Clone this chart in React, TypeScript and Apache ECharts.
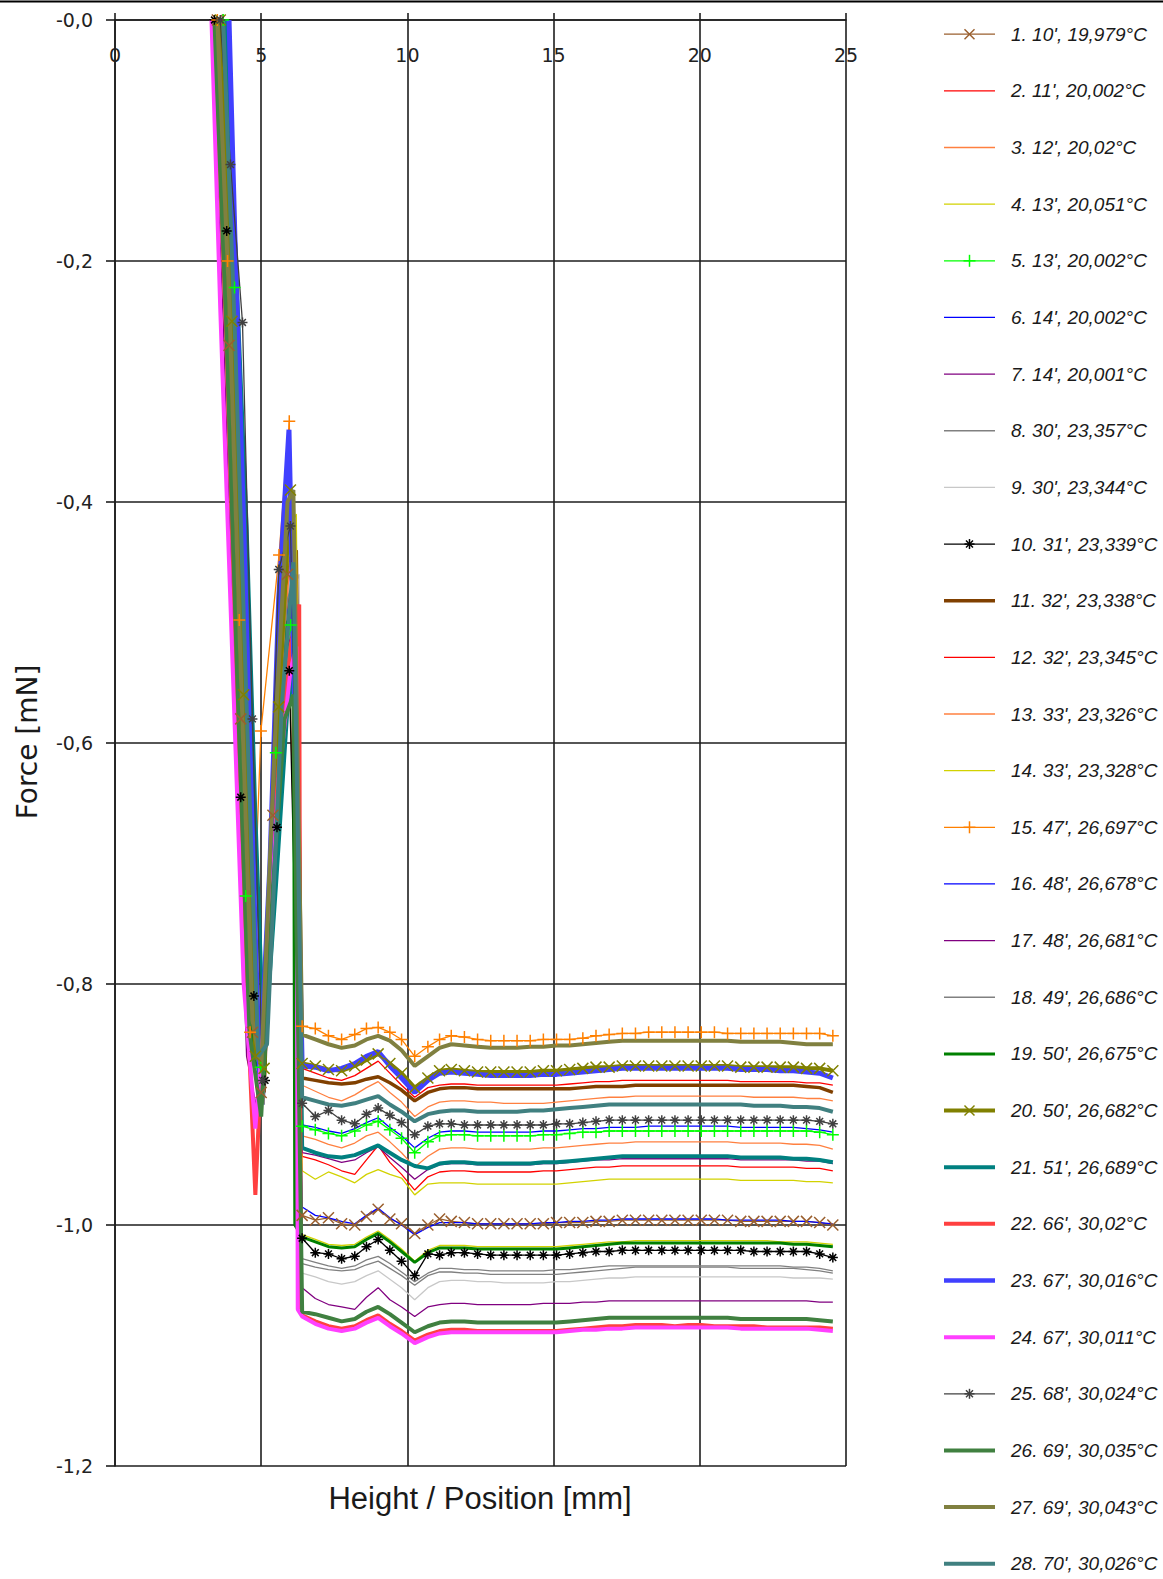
import React, { useEffect, useRef } from 'react';
import * as echarts from 'echarts';

// ---------- legend texts / styles ----------
const seriesNames = [
  "1. 10', 19,979°C", "2. 11', 20,002°C", "3. 12', 20,02°C", "4. 13', 20,051°C",
  "5. 13', 20,002°C", "6. 14', 20,002°C", "7. 14', 20,001°C", "8. 30', 23,357°C",
  "9. 30', 23,344°C", "10. 31', 23,339°C", "11. 32', 23,338°C", "12. 32', 23,345°C",
  "13. 33', 23,326°C", "14. 33', 23,328°C", "15. 47', 26,697°C", "16. 48', 26,678°C",
  "17. 48', 26,681°C", "18. 49', 26,686°C", "19. 50', 26,675°C", "20. 50', 26,682°C",
  "21. 51', 26,689°C", "22. 66', 30,02°C", "23. 67', 30,016°C", "24. 67', 30,011°C",
  "25. 68', 30,024°C", "26. 69', 30,035°C", "27. 69', 30,043°C", "28. 70', 30,026°C",
];
const seriesColors = [
  '#9a5f2e', '#ff0000', '#ff8040', '#d2d200', '#00ff00', '#0000ff', '#800080', '#808080',
  '#c8c8c8', '#000000', '#804000', '#ff0000', '#ff8040', '#d2d200', '#ff8000', '#0000ff',
  '#800080', '#808080', '#008000', '#808000', '#008080', '#ff4040', '#4040ff', '#ff40ff',
  '#404040', '#408040', '#808040', '#408080',
];
const seriesWidths = [
  1.3, 1.3, 1.3, 1.3, 1.3, 1.3, 1.3, 1.3, 1.3, 1.3, 3.5, 1.3, 1.3, 1.3,
  1.3, 1.3, 1.3, 1.3, 3, 4, 4, 4, 5, 4, 1.3, 4, 4, 4,
];
const seriesMarkers = [
  'x', '', '', '', '+', '', '', '', '', '*', '', '', '', '',
  '+', '', '', '', '', 'x', '', '', '', '', '*', '', '', '',
];

// ---------- x positions of the flat part (mm) ----------
const plateauPositions = [
  6.4, 6.85, 7.3, 7.75, 8.2, 8.6, 9.0, 9.4, 9.8, 10.25,
  10.7, 11.1, 11.5, 11.95, 12.4, 12.85, 13.3, 13.75, 14.2, 14.65,
  15.1, 15.55, 16.0, 16.45, 16.9, 17.35, 17.8, 18.25, 18.7, 19.15,
  19.6, 20.05, 20.5, 20.95, 21.4, 21.85, 22.3, 22.75, 23.2, 23.65,
  24.1, 24.55,
];

// ---------- initial transient part [mm, mN] ----------
const s01Rise = [[3.5, 0], [3.9, -0.27], [4.3, -0.58], [4.7, -0.84], [5.0, -0.89], [5.4, -0.66], [5.9, -0.46]];
const s02Rise = [[3.4, 0], [3.8, -0.24], [4.2, -0.53], [4.6, -0.80], [5.0, -0.88], [5.4, -0.66], [5.8, -0.50], [6.2, -0.45]];
const s03Rise = [[3.6, 0], [4.0, -0.26], [4.4, -0.57], [4.8, -0.86], [5.1, -0.88], [5.5, -0.62], [6.0, -0.44], [6.2, -0.43]];
const s04Rise = [[3.4, 0], [3.8, -0.22], [4.2, -0.52], [4.6, -0.83], [5.0, -0.89], [5.4, -0.70], [5.8, -0.55], [6.2, -0.52]];
const s05Rise = [[3.7, 0], [4.09, -0.222], [4.47, -0.727], [4.98, -0.869], [5.5, -0.608], [6.01, -0.502]];
const s06Rise = [[3.5, 0], [3.9, -0.27], [4.3, -0.58], [4.7, -0.84], [5.1, -0.90], [5.5, -0.64], [5.9, -0.49], [6.2, -0.47]];
const s07Rise = [[3.3, 0], [3.7, -0.25], [4.1, -0.56], [4.5, -0.86], [4.9, -0.91], [5.3, -0.72], [5.7, -0.58], [6.1, -0.56]];
const s08Rise = [[3.4, 0], [3.8, -0.25], [4.2, -0.54], [4.6, -0.82], [5.0, -0.88], [5.4, -0.66], [5.8, -0.52], [6.2, -0.50]];
const s09Rise = [[3.6, 0], [4.0, -0.24], [4.4, -0.55], [4.8, -0.84], [5.1, -0.90], [5.6, -0.62], [6.0, -0.48], [6.3, -0.46]];
const s10Rise = [[3.4, 0], [3.82, -0.175], [4.3, -0.645], [4.75, -0.81], [5.13, -0.88], [5.54, -0.67], [5.96, -0.54]];
const s11Rise = [[3.5, 0], [3.9, -0.25], [4.3, -0.54], [4.7, -0.82], [5.1, -0.89], [5.5, -0.60], [5.9, -0.45], [6.2, -0.44]];
const s12Rise = [[3.4, 0], [3.8, -0.23], [4.2, -0.52], [4.6, -0.79], [5.0, -0.87], [5.4, -0.69], [5.8, -0.56], [6.2, -0.49]];
const s13Rise = [[3.5, 0], [3.9, -0.24], [4.3, -0.57], [4.7, -0.83], [5.1, -0.89], [5.5, -0.63], [5.9, -0.47], [6.2, -0.44]];
const s14Rise = [[3.6, 0], [4.0, -0.25], [4.4, -0.57], [4.8, -0.87], [5.1, -0.86], [5.5, -0.60], [6.0, -0.42], [6.2, -0.41]];
const s15Rise = [[3.5, 0], [3.85, -0.2], [4.25, -0.498], [4.62, -0.84], [4.99, -0.59], [5.61, -0.444], [5.96, -0.333]];
const s16Rise = [[3.4, 0], [3.8, -0.26], [4.2, -0.58], [4.6, -0.85], [5.0, -0.90], [5.4, -0.71], [5.8, -0.57], [6.1, -0.55]];
const s17Rise = [[3.5, 0], [3.9, -0.27], [4.3, -0.57], [4.7, -0.83], [5.1, -0.88], [5.5, -0.66], [5.9, -0.52], [6.2, -0.50]];
const s18Rise = [[3.5, 0], [3.9, -0.25], [4.3, -0.56], [4.7, -0.84], [5.1, -0.90], [5.5, -0.64], [5.9, -0.48], [6.2, -0.46]];
const s19Rise = [[3.5, 0], [3.9, -0.26], [4.3, -0.60], [4.7, -0.86], [5.1, -0.88], [5.5, -0.66], [5.9, -0.50], [6.1, -0.49], [6.15, -1.0]];
const s20Rise = [[3.6, 0], [4.0, -0.25], [4.4, -0.56], [4.8, -0.86], [5.1, -0.87], [5.6, -0.57], [6.0, -0.39]];
const s21Rise = [[3.8, 0], [4.2, -0.24], [4.5, -0.42], [4.8, -0.66], [5.1, -0.86], [5.5, -0.72], [5.9, -0.57], [6.2, -0.53]];
const s22Rise = [[3.4, 0], [3.8, -0.26], [4.2, -0.58], [4.6, -0.86], [4.8, -0.975], [5.2, -0.76], [5.6, -0.62], [6.0, -0.52], [6.3, -0.485], [6.35, -1.07]];
const s23Rise = [[3.9, 0], [4.1, -0.18], [4.4, -0.42], [4.7, -0.68], [4.95, -0.88], [5.3, -0.70], [5.6, -0.48], [5.95, -0.34]];
const s24Rise = [[3.3, 0], [3.6, -0.24], [4.0, -0.52], [4.4, -0.80], [4.8, -0.92], [5.2, -0.80], [5.6, -0.63], [6.0, -0.54], [6.2, -0.52], [6.25, -1.07]];
const s25Rise = [[3.6, 0], [3.95, -0.12], [4.36, -0.251], [4.7, -0.58], [5.05, -0.88], [5.6, -0.456], [6.0, -0.42]];
const s26Rise = [[3.4, 0], [3.8, -0.25], [4.2, -0.56], [4.6, -0.84], [5.0, -0.91], [5.4, -0.72], [5.8, -0.58], [6.1, -0.56]];
const s27Rise = [[3.5, 0], [3.9, -0.23], [4.3, -0.54], [4.7, -0.83], [5.0, -0.87], [5.5, -0.58], [5.9, -0.40], [6.1, -0.39]];
const s28Rise = [[3.7, 0], [4.1, -0.26], [4.5, -0.57], [4.9, -0.86], [5.2, -0.85], [5.7, -0.57], [6.1, -0.45]];

// ---------- flat part (mN) at plateauPositions ----------
const s01Flat = [
  -0.992, -0.996, -0.994, -0.999, -1.000, -0.993, -0.987, -0.995, -0.999, -1.007,
  -1.000, -0.995, -0.997, -0.998, -0.999, -0.999, -0.999, -0.999, -0.999, -0.999,
  -0.998, -0.998, -0.998, -0.997, -0.997, -0.996, -0.996, -0.996, -0.996, -0.996,
  -0.996, -0.996, -0.996, -0.996, -0.997, -0.997, -0.997, -0.997, -0.997, -0.997,
  -0.998, -1.000];
const s02Flat = [
  -0.870, -0.874, -0.878, -0.880, -0.876, -0.870, -0.864, -0.874, -0.884, -0.894,
  -0.886, -0.884, -0.883, -0.883, -0.884, -0.884, -0.884, -0.884, -0.884, -0.884,
  -0.884, -0.883, -0.882, -0.881, -0.881, -0.880, -0.880, -0.880, -0.880, -0.880,
  -0.880, -0.880, -0.880, -0.880, -0.881, -0.881, -0.881, -0.881, -0.881, -0.882,
  -0.882, -0.884];
const s03Flat = [
  -0.884, -0.889, -0.894, -0.897, -0.892, -0.886, -0.881, -0.890, -0.898, -0.910,
  -0.902, -0.898, -0.897, -0.897, -0.898, -0.898, -0.899, -0.899, -0.899, -0.899,
  -0.898, -0.897, -0.896, -0.895, -0.894, -0.894, -0.893, -0.893, -0.893, -0.893,
  -0.893, -0.893, -0.893, -0.893, -0.893, -0.894, -0.894, -0.894, -0.894, -0.895,
  -0.895, -0.897];
const s04Flat = [
  -1.008, -1.012, -1.016, -1.017, -1.016, -1.010, -1.005, -1.012, -1.020, -1.030,
  -1.021, -1.017, -1.017, -1.017, -1.018, -1.018, -1.018, -1.018, -1.018, -1.018,
  -1.018, -1.017, -1.016, -1.015, -1.014, -1.014, -1.013, -1.013, -1.013, -1.013,
  -1.013, -1.013, -1.013, -1.013, -1.013, -1.013, -1.013, -1.014, -1.014, -1.014,
  -1.015, -1.016];
const s05Flat = [
  -0.918, -0.921, -0.924, -0.926, -0.922, -0.917, -0.914, -0.921, -0.928, -0.940,
  -0.931, -0.926, -0.925, -0.925, -0.926, -0.926, -0.926, -0.926, -0.926, -0.925,
  -0.925, -0.924, -0.923, -0.923, -0.922, -0.922, -0.922, -0.922, -0.922, -0.922,
  -0.922, -0.922, -0.922, -0.922, -0.922, -0.922, -0.922, -0.922, -0.922, -0.922,
  -0.923, -0.925];
const s06Flat = [
  -0.917, -0.919, -0.922, -0.924, -0.920, -0.915, -0.911, -0.919, -0.926, -0.936,
  -0.928, -0.923, -0.922, -0.922, -0.923, -0.923, -0.923, -0.923, -0.923, -0.922,
  -0.922, -0.921, -0.920, -0.920, -0.919, -0.919, -0.919, -0.918, -0.918, -0.918,
  -0.918, -0.918, -0.918, -0.918, -0.919, -0.919, -0.919, -0.919, -0.919, -0.920,
  -0.921, -0.923];
const s07Flat = [
  -1.052, -1.061, -1.066, -1.068, -1.070, -1.060, -1.052, -1.062, -1.068, -1.076,
  -1.068, -1.066, -1.065, -1.065, -1.066, -1.066, -1.066, -1.066, -1.066, -1.065,
  -1.065, -1.065, -1.064, -1.064, -1.063, -1.063, -1.063, -1.063, -1.063, -1.063,
  -1.063, -1.063, -1.063, -1.063, -1.063, -1.063, -1.063, -1.063, -1.063, -1.063,
  -1.064, -1.064];
const s08Flat = [
  -1.032, -1.035, -1.037, -1.038, -1.037, -1.033, -1.030, -1.036, -1.042, -1.050,
  -1.042, -1.039, -1.039, -1.040, -1.040, -1.041, -1.041, -1.041, -1.041, -1.041,
  -1.041, -1.040, -1.039, -1.038, -1.037, -1.036, -1.035, -1.035, -1.035, -1.035,
  -1.035, -1.035, -1.035, -1.035, -1.036, -1.036, -1.036, -1.036, -1.036, -1.037,
  -1.038, -1.040];
const s09Flat = [
  -1.040, -1.043, -1.047, -1.049, -1.047, -1.042, -1.038, -1.045, -1.052, -1.062,
  -1.052, -1.047, -1.046, -1.046, -1.047, -1.047, -1.048, -1.048, -1.048, -1.048,
  -1.047, -1.047, -1.046, -1.045, -1.044, -1.044, -1.043, -1.043, -1.043, -1.043,
  -1.043, -1.043, -1.043, -1.043, -1.043, -1.043, -1.043, -1.043, -1.044, -1.044,
  -1.044, -1.045];
const s10Flat = [
  -1.011, -1.023, -1.024, -1.028, -1.026, -1.018, -1.012, -1.021, -1.030, -1.042,
  -1.024, -1.025, -1.023, -1.023, -1.024, -1.025, -1.025, -1.025, -1.025, -1.025,
  -1.025, -1.024, -1.023, -1.022, -1.022, -1.021, -1.021, -1.021, -1.021, -1.021,
  -1.021, -1.021, -1.021, -1.021, -1.021, -1.022, -1.022, -1.022, -1.022, -1.022,
  -1.024, -1.027];
const s11Flat = [
  -0.878, -0.880, -0.882, -0.883, -0.882, -0.879, -0.877, -0.882, -0.888, -0.897,
  -0.890, -0.887, -0.886, -0.886, -0.887, -0.887, -0.887, -0.887, -0.887, -0.887,
  -0.887, -0.887, -0.886, -0.885, -0.885, -0.885, -0.884, -0.884, -0.884, -0.884,
  -0.884, -0.884, -0.884, -0.884, -0.884, -0.884, -0.884, -0.884, -0.884, -0.885,
  -0.886, -0.890];
const s12Flat = [
  -0.943, -0.946, -0.950, -0.955, -0.958, -0.946, -0.934, -0.948, -0.958, -0.971,
  -0.960, -0.956, -0.955, -0.955, -0.956, -0.956, -0.956, -0.956, -0.956, -0.955,
  -0.955, -0.954, -0.953, -0.952, -0.952, -0.951, -0.951, -0.951, -0.951, -0.951,
  -0.951, -0.951, -0.951, -0.951, -0.952, -0.952, -0.952, -0.952, -0.952, -0.953,
  -0.953, -0.955];
const s13Flat = [
  -0.926, -0.929, -0.933, -0.936, -0.932, -0.926, -0.923, -0.931, -0.940, -0.952,
  -0.943, -0.937, -0.936, -0.936, -0.937, -0.937, -0.937, -0.937, -0.937, -0.936,
  -0.936, -0.935, -0.934, -0.933, -0.932, -0.932, -0.931, -0.931, -0.931, -0.931,
  -0.931, -0.931, -0.931, -0.931, -0.932, -0.932, -0.932, -0.932, -0.933, -0.933,
  -0.934, -0.937];
const s14Flat = [
  -0.955, -0.962, -0.956, -0.960, -0.965, -0.958, -0.954, -0.958, -0.961, -0.975,
  -0.966, -0.965, -0.965, -0.965, -0.966, -0.966, -0.966, -0.966, -0.966, -0.966,
  -0.966, -0.965, -0.964, -0.963, -0.962, -0.962, -0.962, -0.962, -0.962, -0.962,
  -0.962, -0.962, -0.962, -0.962, -0.963, -0.963, -0.963, -0.963, -0.963, -0.964,
  -0.964, -0.965];
const s15Flat = [
  -0.835, -0.837, -0.843, -0.846, -0.842, -0.837, -0.836, -0.840, -0.846, -0.860,
  -0.852, -0.846, -0.843, -0.844, -0.846, -0.847, -0.847, -0.847, -0.847, -0.846,
  -0.846, -0.846, -0.845, -0.843, -0.842, -0.841, -0.841, -0.840, -0.840, -0.840,
  -0.840, -0.840, -0.840, -0.841, -0.841, -0.841, -0.841, -0.841, -0.841, -0.841,
  -0.841, -0.843];
const s16Flat = [
  -0.985, -0.992, -0.994, -0.997, -0.999, -0.992, -0.986, -0.994, -1.000, -1.008,
  -1.002, -0.998, -0.998, -0.998, -0.999, -0.999, -0.999, -0.999, -0.999, -0.998,
  -0.998, -0.997, -0.997, -0.996, -0.996, -0.995, -0.995, -0.995, -0.995, -0.995,
  -0.995, -0.995, -0.995, -0.996, -0.996, -0.996, -0.996, -0.996, -0.997, -0.997,
  -0.998, -0.999];
const s17Flat = [
  -0.940, -0.942, -0.945, -0.948, -0.946, -0.940, -0.935, -0.944, -0.952, -0.962,
  -0.954, -0.950, -0.949, -0.949, -0.950, -0.950, -0.950, -0.950, -0.950, -0.949,
  -0.949, -0.948, -0.947, -0.946, -0.946, -0.945, -0.945, -0.945, -0.945, -0.945,
  -0.945, -0.945, -0.945, -0.945, -0.946, -0.946, -0.946, -0.946, -0.946, -0.947,
  -0.947, -0.949];
const s18Flat = [
  -1.028, -1.031, -1.034, -1.036, -1.034, -1.029, -1.026, -1.032, -1.039, -1.047,
  -1.040, -1.036, -1.036, -1.037, -1.037, -1.038, -1.038, -1.038, -1.038, -1.038,
  -1.037, -1.037, -1.036, -1.035, -1.034, -1.034, -1.034, -1.034, -1.034, -1.034,
  -1.034, -1.034, -1.034, -1.034, -1.034, -1.034, -1.034, -1.034, -1.035, -1.035,
  -1.036, -1.038];
const s19Flat = [
  -1.010, -1.014, -1.018, -1.019, -1.018, -1.012, -1.007, -1.014, -1.022, -1.031,
  -1.023, -1.019, -1.019, -1.019, -1.020, -1.020, -1.020, -1.020, -1.020, -1.020,
  -1.020, -1.019, -1.018, -1.017, -1.016, -1.015, -1.015, -1.015, -1.015, -1.015,
  -1.015, -1.015, -1.015, -1.015, -1.015, -1.015, -1.015, -1.015, -1.016, -1.016,
  -1.017, -1.018];
const s20Flat = [
  -0.866, -0.868, -0.871, -0.872, -0.868, -0.863, -0.858, -0.866, -0.874, -0.886,
  -0.878, -0.872, -0.871, -0.872, -0.873, -0.873, -0.873, -0.873, -0.873, -0.872,
  -0.872, -0.871, -0.870, -0.869, -0.869, -0.868, -0.868, -0.868, -0.868, -0.868,
  -0.868, -0.868, -0.868, -0.868, -0.869, -0.869, -0.869, -0.869, -0.869, -0.870,
  -0.870, -0.872];
const s21Flat = [
  -0.936, -0.940, -0.943, -0.944, -0.942, -0.938, -0.934, -0.940, -0.946, -0.951,
  -0.953, -0.949, -0.948, -0.948, -0.949, -0.949, -0.949, -0.949, -0.949, -0.948,
  -0.948, -0.947, -0.946, -0.945, -0.944, -0.943, -0.943, -0.943, -0.943, -0.943,
  -0.943, -0.943, -0.943, -0.943, -0.944, -0.944, -0.944, -0.944, -0.945, -0.945,
  -0.946, -0.948];
const s22Flat = [
  -1.075, -1.080, -1.084, -1.086, -1.084, -1.079, -1.075, -1.082, -1.088, -1.096,
  -1.091, -1.088, -1.087, -1.087, -1.088, -1.088, -1.088, -1.088, -1.088, -1.088,
  -1.088, -1.087, -1.086, -1.085, -1.084, -1.084, -1.083, -1.083, -1.083, -1.084,
  -1.083, -1.083, -1.084, -1.084, -1.084, -1.084, -1.085, -1.085, -1.085, -1.085,
  -1.085, -1.086];
const s23Flat = [
  -0.868, -0.869, -0.872, -0.870, -0.866, -0.860, -0.856, -0.868, -0.878, -0.890,
  -0.880, -0.874, -0.873, -0.874, -0.875, -0.876, -0.876, -0.876, -0.876, -0.875,
  -0.875, -0.874, -0.873, -0.872, -0.871, -0.870, -0.870, -0.870, -0.870, -0.870,
  -0.870, -0.870, -0.870, -0.870, -0.871, -0.871, -0.871, -0.872, -0.872, -0.873,
  -0.874, -0.878];
const s24Flat = [
  -1.076, -1.082, -1.086, -1.088, -1.086, -1.081, -1.077, -1.084, -1.090, -1.098,
  -1.093, -1.090, -1.089, -1.089, -1.089, -1.089, -1.089, -1.089, -1.089, -1.089,
  -1.089, -1.088, -1.087, -1.087, -1.086, -1.086, -1.085, -1.085, -1.085, -1.085,
  -1.085, -1.085, -1.085, -1.085, -1.086, -1.086, -1.086, -1.086, -1.086, -1.086,
  -1.087, -1.088];
const s25Flat = [
  -0.899, -0.910, -0.905, -0.913, -0.916, -0.908, -0.903, -0.909, -0.915, -0.925,
  -0.918, -0.916, -0.916, -0.917, -0.917, -0.917, -0.917, -0.917, -0.917, -0.917,
  -0.916, -0.916, -0.915, -0.914, -0.913, -0.913, -0.913, -0.913, -0.913, -0.913,
  -0.913, -0.913, -0.913, -0.913, -0.913, -0.913, -0.913, -0.913, -0.913, -0.913,
  -0.914, -0.916];
const s26Flat = [
  -1.072, -1.074, -1.077, -1.080, -1.078, -1.072, -1.068, -1.074, -1.081, -1.089,
  -1.084, -1.081, -1.080, -1.080, -1.081, -1.081, -1.081, -1.081, -1.081, -1.081,
  -1.081, -1.080, -1.079, -1.078, -1.077, -1.077, -1.077, -1.077, -1.077, -1.077,
  -1.077, -1.077, -1.077, -1.077, -1.078, -1.078, -1.078, -1.078, -1.078, -1.078,
  -1.079, -1.080];
const s27Flat = [
  -0.842, -0.846, -0.850, -0.853, -0.851, -0.846, -0.843, -0.847, -0.855, -0.868,
  -0.860, -0.853, -0.850, -0.851, -0.852, -0.853, -0.853, -0.853, -0.852, -0.852,
  -0.851, -0.851, -0.850, -0.849, -0.848, -0.847, -0.847, -0.847, -0.847, -0.847,
  -0.847, -0.847, -0.847, -0.847, -0.848, -0.848, -0.848, -0.848, -0.849, -0.850,
  -0.850, -0.850];
const s28Flat = [
  -0.894, -0.897, -0.900, -0.901, -0.899, -0.896, -0.893, -0.900, -0.906, -0.914,
  -0.908, -0.906, -0.905, -0.905, -0.906, -0.906, -0.906, -0.906, -0.905, -0.905,
  -0.904, -0.903, -0.902, -0.901, -0.900, -0.900, -0.900, -0.900, -0.900, -0.900,
  -0.900, -0.900, -0.900, -0.900, -0.900, -0.901, -0.901, -0.901, -0.902, -0.902,
  -0.903, -0.906];

const yTickValues = [-1.2, -1.0, -0.8, -0.6, -0.4, -0.2, 0];

const riseParts = [s01Rise, s02Rise, s03Rise, s04Rise, s05Rise, s06Rise, s07Rise, s08Rise, s09Rise, s10Rise,
  s11Rise, s12Rise, s13Rise, s14Rise, s15Rise, s16Rise, s17Rise, s18Rise, s19Rise, s20Rise,
  s21Rise, s22Rise, s23Rise, s24Rise, s25Rise, s26Rise, s27Rise, s28Rise];
const flatParts = [s01Flat, s02Flat, s03Flat, s04Flat, s05Flat, s06Flat, s07Flat, s08Flat, s09Flat, s10Flat,
  s11Flat, s12Flat, s13Flat, s14Flat, s15Flat, s16Flat, s17Flat, s18Flat, s19Flat, s20Flat,
  s21Flat, s22Flat, s23Flat, s24Flat, s25Flat, s26Flat, s27Flat, s28Flat];

const MARKER_PATHS: Record<string, string> = {
  x: 'path://M0,0L10,10M10,0L0,10',
  '+': 'path://M5,0L5,10M0,5L10,5',
  '*': 'path://M5,0L5,10M0,5L10,5M1.6,1.6L8.4,8.4M8.4,1.6L1.6,8.4',
};
const MARKER_SIZES: Record<string, number> = { x: 11, '+': 12, '*': 10 };

function legendMarker(kind: string, cx: number, cy: number, color: string) {
  const segs: number[][] = [];
  if (kind === 'x') {
    segs.push([-5, -5, 5, 5], [5, -5, -5, 5]);
  } else if (kind === '+') {
    segs.push([0, -6, 0, 6], [-6, 0, 6, 0]);
  } else if (kind === '*') {
    segs.push([0, -5, 0, 5], [-5, 0, 5, 0], [-3.5, -3.5, 3.5, 3.5], [3.5, -3.5, -3.5, 3.5]);
  }
  return segs.map((s) => ({
    type: 'line',
    silent: true,
    shape: { x1: cx + s[0], y1: cy + s[1], x2: cx + s[2], y2: cy + s[3] },
    style: { stroke: color, lineWidth: 1.5 },
  }));
}

export default function App() {
  const ref = useRef<HTMLDivElement>(null);

  useEffect(() => {
    if (!ref.current) return;
    const chart = echarts.init(ref.current, undefined, { renderer: 'svg' });

    const series = seriesNames.map((name, i) => {
      const data = riseParts[i].map((p) => [p[0], p[1]]).concat(
        flatParts[i].map((v, k) => [plateauPositions[k], v])
      );
      const mk = seriesMarkers[i];
      return {
        type: 'line',
        name,
        data,
        silent: true,
        symbol: mk ? MARKER_PATHS[mk] : 'none',
        symbolSize: mk ? MARKER_SIZES[mk] : 0,
        showSymbol: !!mk,
        showAllSymbol: true,
        lineStyle: { color: seriesColors[i], width: seriesWidths[i] },
        itemStyle: { color: seriesColors[i], borderColor: seriesColors[i], borderWidth: 1.5 },
        emphasis: { disabled: true },
        z: 2,
      };
    });

    const legendGraphics: any[] = [];
    seriesNames.forEach((name, i) => {
      const cy = 34.2 + i * 56.65;
      legendGraphics.push({
        type: 'line',
        silent: true,
        shape: { x1: 944, y1: cy, x2: 995, y2: cy },
        style: { stroke: seriesColors[i], lineWidth: Math.min(seriesWidths[i], 4.5) },
      });
      if (seriesMarkers[i]) {
        legendGraphics.push(...legendMarker(seriesMarkers[i], 969.5, cy, seriesColors[i]));
      }
      legendGraphics.push({
        type: 'text',
        silent: true,
        x: 1011,
        y: cy,
        style: {
          text: name,
          fill: '#1a1a1a',
          fontSize: 19,
          fontStyle: 'italic',
          fontFamily: '"Liberation Sans", Arial, sans-serif',
          align: 'left',
          verticalAlign: 'middle',
        },
      });
    });

    const axisColor = '#1e1e1e';
    chart.setOption({
      animation: false,
      backgroundColor: '#ffffff',
      grid: { left: 115, right: 317, top: 20, bottom: 113, containLabel: false },
      xAxis: {
        type: 'value',
        position: 'top',
        min: 0,
        max: 25,
        interval: 5,
        axisLine: { show: true, onZero: false, lineStyle: { color: axisColor, width: 1.6 } },
        axisTick: { show: true, inside: false, length: 7, lineStyle: { color: axisColor, width: 1.6 } },
        axisLabel: {
          inside: true,
          margin: 25,
          fontSize: 19,
          fontFamily: '"DejaVu Sans", Verdana, sans-serif',
          color: '#222',
        },
        splitLine: { show: true, lineStyle: { color: axisColor, width: 1.6 } },
      },
      yAxis: {
        type: 'value',
        min: yTickValues[0],
        max: yTickValues[yTickValues.length - 1],
        interval: 0.2,
        axisLine: { show: true, onZero: false, lineStyle: { color: axisColor, width: 1.6 } },
        axisTick: { show: true, inside: false, length: 9, lineStyle: { color: axisColor, width: 1.6 } },
        axisLabel: {
          margin: 22,
          fontSize: 19,
          fontFamily: '"DejaVu Sans", Verdana, sans-serif',
          color: '#222',
          formatter: (v: number) => (Math.abs(v) < 1e-9 ? '-0,0' : v.toFixed(1).replace('.', ',')),
        },
        splitLine: { show: true, lineStyle: { color: axisColor, width: 1.6 } },
      },
      series,
      graphic: [
        {
          type: 'line',
          silent: true,
          shape: { x1: 0, y1: 1.5, x2: 1163, y2: 1.5 },
          style: { stroke: '#000', lineWidth: 2 },
        },
        {
          type: 'text',
          silent: true,
          x: 480,
          y: 1498,
          style: {
            text: 'Height / Position [mm]',
            fill: '#1a1a1a',
            fontSize: 31,
            fontFamily: '"Liberation Sans", Arial, sans-serif',
            align: 'center',
            verticalAlign: 'middle',
          },
        },
        {
          type: 'text',
          silent: true,
          x: 27,
          y: 742,
          rotation: Math.PI / 2,
          style: {
            text: 'Force [mN]',
            fill: '#1a1a1a',
            fontSize: 28,
            fontFamily: '"DejaVu Sans", Verdana, sans-serif',
            align: 'center',
            verticalAlign: 'middle',
          },
        },
        ...legendGraphics,
      ],
    });

    return () => {
      chart.dispose();
    };
  }, []);

  return (
    <div
      ref={ref}
      style={{ position: 'absolute', left: 0, top: 0, width: 1163, height: 1579, background: '#fff' }}
    />
  );
}
